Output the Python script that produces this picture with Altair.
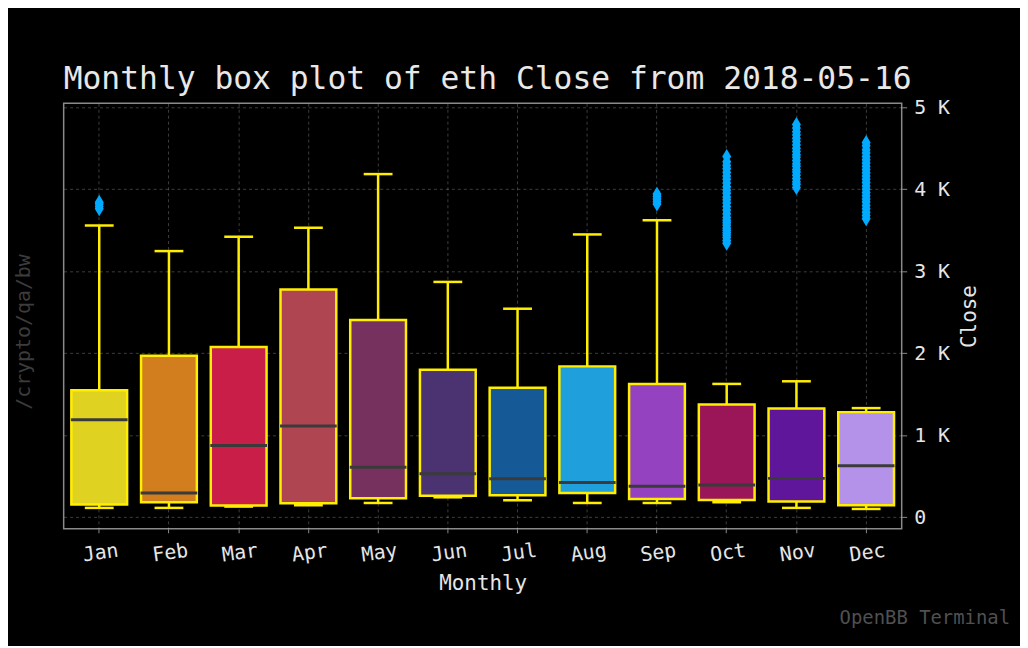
import altair as alt
import pandas as pd

months = ["Jan", "Feb", "Mar", "Apr", "May", "Jun", "Jul", "Aug", "Sep", "Oct", "Nov", "Dec"]
q1 = [153, 182, 141, 170, 230, 262, 267, 295, 222, 210, 190, 145]
q3 = [1547, 1968, 2074, 2777, 2405, 1798, 1577, 1839, 1625, 1374, 1325, 1281]
median = [1188, 295, 873, 1111, 610, 529, 468, 424, 376, 392, 473, 626]
whisk_lo = [113, 113, 129, 145, 173, 242, 206, 173, 173, 182, 113, 100]
whisk_hi = [3557, 3245, 3420, 3529, 4184, 2869, 2542, 3448, 3621, 1625, 1657, 1330]
colors = ["#e0d220", "#d27d1e", "#c81e48", "#b04552", "#77315e", "#4a3370",
          "#155a96", "#209fdd", "#9442c0", "#9a1658", "#5f169b", "#b492ea"]

outliers = {
    "Jan": [3760, 3790, 3820, 3840],
    "Sep": [3820, 3850, 3880, 3910, 3940],
    "Oct": [3340, 3375, 3410, 3440, 3470, 3500, 3525, 3560, 3590, 3620, 3655, 3700,
            3745, 3790, 3830, 3870, 3905, 3950, 3990, 4030, 4075, 4120, 4160, 4205,
            4250, 4290, 4335, 4400],
    "Nov": [4020, 4060, 4090, 4130, 4170, 4210, 4240, 4280, 4310, 4350, 4390, 4420,
            4460, 4500, 4540, 4580, 4620, 4660, 4700, 4745, 4790],
    "Dec": [3640, 3680, 3720, 3760, 3800, 3845, 3880, 3920, 3960, 4000, 4040, 4080,
            4120, 4160, 4200, 4240, 4280, 4320, 4360, 4400, 4440, 4480, 4530, 4570],
}

stats = pd.DataFrame({"month": months, "q1": q1, "q3": q3, "med": median,
                      "lo": whisk_lo, "hi": whisk_hi})
out_rows = [{"month": m, "value": v} for m, vals in outliers.items() for v in vals]
out_df = pd.DataFrame(out_rows)

FONT = "DejaVu Sans Mono"
YELLOW = "#ffee00"

xscale = alt.Scale(domain=months, paddingInner=0, paddingOuter=0.01)
yscale = alt.Scale(domain=[-142, 5047], nice=False, zero=False)

xenc = alt.X("month:N", scale=xscale, sort=months,
             axis=alt.Axis(title="Monthly", labelAngle=352, labelAlign="center",
                           labelBaseline="top", labelPadding=10, labelFontSize=20,
                           titlePadding=8, tickSize=4))
yaxis = alt.Axis(title="Close", orient="right", values=[0, 1000, 2000, 3000, 4000, 5000],
                 labelExpr="datum.value == 0 ? '0' : (datum.value / 1000) + ' K'",
                 labelAlign="left", labelFontSize=20,
                 titleAngle=270, titlePadding=30, labelPadding=7, tickSize=5)

base = alt.Chart(stats)

whisk_low = base.mark_rule(color=YELLOW, strokeWidth=2.5).encode(
    x=xenc, y=alt.Y("lo:Q", scale=yscale, axis=yaxis), y2="q1:Q")
whisk_high = base.mark_rule(color=YELLOW, strokeWidth=2.5).encode(
    x=xenc, y=alt.Y("q3:Q", scale=yscale), y2="hi:Q")
cap_low = base.mark_tick(color=YELLOW, size=29, thickness=2.5, opacity=1).encode(
    x=xenc, y=alt.Y("lo:Q", scale=yscale))
cap_high = base.mark_tick(color=YELLOW, size=29, thickness=2.5, opacity=1).encode(
    x=xenc, y=alt.Y("hi:Q", scale=yscale))
boxes = base.mark_bar(width=alt.RelativeBandSize(0.8), stroke=YELLOW, strokeWidth=2.5,
                      opacity=1).encode(
    x=xenc, y=alt.Y("q1:Q", scale=yscale), y2="q3:Q",
    fill=alt.Fill("month:N", scale=alt.Scale(domain=months, range=colors), legend=None))
meds = base.mark_tick(color="#3a3a3a", size=57, thickness=3, opacity=1).encode(
    x=xenc, y=alt.Y("med:Q", scale=yscale))
pts = alt.Chart(out_df).mark_point(shape="M0,-1L0.6,0L0,1L-0.6,0Z", size=225, filled=True,
                                   color="#00aaff", opacity=1).encode(
    x=xenc, y=alt.Y("value:Q", scale=yscale))

side = alt.Chart(pd.DataFrame({"t": ["/crypto/qa/bw"]})).mark_text(
    angle=270, font=FONT, fontSize=20, color="#3c3c3c", baseline="middle", align="center"
).encode(text="t:N", x=alt.value(-40), y=alt.value(230))
brand = alt.Chart(pd.DataFrame({"t": ["OpenBB Terminal"]})).mark_text(
    font=FONT, fontSize=19, color="#505050", baseline="middle", align="right"
).encode(text="t:N", x=alt.value(952), y=alt.value(518))

chart = alt.layer(whisk_low, whisk_high, cap_low, cap_high, boxes, meds, pts, side, brand).properties(
    width=843, height=428,
    autosize=alt.AutoSizeParams(type="none"),
    padding={"left": 56, "top": 94, "right": 119, "bottom": 116},
    title=alt.TitleParams("Monthly box plot of eth Close from 2018-05-16", anchor="start",
                          frame="group", font=FONT, fontSize=31.5, fontWeight="normal",
                          color="#e8e8e8", offset=2),
    background="black",
).configure_view(
    stroke="#8a8a8a", strokeWidth=1.5, fill="black"
).configure_axis(
    labelFont=FONT, titleFont=FONT, labelFontSize=19, titleFontSize=21,
    labelColor="#e6e6e6", titleColor="#e6e6e6", titleFontWeight="normal",
    tickColor="#8a8a8a", domain=False,
    grid=True, gridColor="#ffffff", gridOpacity=0.3, gridDash=[3, 3], gridWidth=0.8,
    zindex=1,
)

chart.save("out.html", embed_options={"renderer": "svg", "actions": False})
